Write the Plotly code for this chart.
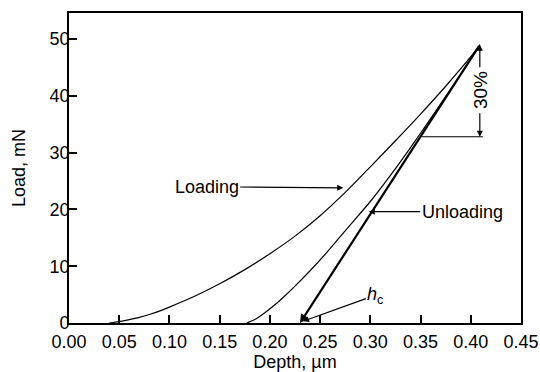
import plotly.graph_objects as go

# ---- data ----
loading_depth = [0.040, 0.050, 0.060, 0.070, 0.080, 0.090, 0.100, 0.125, 0.150, 0.175,
                 0.200, 0.225, 0.250, 0.275, 0.300, 0.325, 0.350, 0.375, 0.400, 0.409]
loading_load = [0.0, 0.25, 0.6, 1.0, 1.5, 2.1, 2.8, 4.7, 6.9, 9.4,
                 12.2, 15.3, 18.9, 23.0, 27.5, 32.1, 36.8, 41.7, 46.9, 49.0]

unloading_depth = [0.177, 0.185, 0.195, 0.205, 0.215, 0.225, 0.240, 0.255, 0.270,
                   0.285, 0.300, 0.320, 0.340, 0.360, 0.380, 0.395, 0.409]
unloading_load = [0.0, 0.6, 1.8, 3.2, 4.8, 6.5, 9.2, 12.1, 15.2,
                  18.3, 21.4, 26.0, 30.9, 36.0, 41.2, 45.1, 49.0]

tangent_depth = [0.230, 0.409]     # h_c intercept, peak depth
tangent_load = [0.0, 49.0]

fit_level = 32.8                    # lower limit of the top 30 % of unloading
fit_line_depth = [0.351, 0.412]

x_ticks = [0.00, 0.05, 0.10, 0.15, 0.20, 0.25, 0.30, 0.35, 0.40, 0.45]
y_ticks = [0, 10, 20, 30, 40, 50]

FONT = "Liberation Sans, Arial, sans-serif"

fig = go.Figure()
fig.add_trace(go.Scatter(x=loading_depth, y=loading_load, mode="lines",
                         line=dict(color="black", width=1.2, shape="spline", smoothing=0.8),
                         showlegend=False, hoverinfo="skip"))
fig.add_trace(go.Scatter(x=unloading_depth, y=unloading_load, mode="lines",
                         line=dict(color="black", width=1.2, shape="spline", smoothing=0.8),
                         showlegend=False, hoverinfo="skip"))
fig.add_trace(go.Scatter(x=fit_line_depth, y=[fit_level, fit_level], mode="lines",
                         line=dict(color="black", width=1.2),
                         showlegend=False, hoverinfo="skip"))

peak_x = tangent_depth[1]
peak_y = tangent_load[1]

ann = []
# tangent line with arrowhead at h_c
ann.append(dict(x=tangent_depth[0], y=tangent_load[0], ax=peak_x, ay=peak_y,
                xref="x", yref="y", axref="x", ayref="y", text="",
                showarrow=True, arrowhead=2, arrowsize=0.8, arrowwidth=2.2,
                arrowcolor="black", standoff=0))
# Loading label
ann.append(dict(x=0.273, y=23.8, ax=0.137, ay=24.0, xref="x", yref="y",
                axref="x", ayref="y", text="Loading", showarrow=True,
                arrowhead=2, arrowsize=1, arrowwidth=1.2, arrowcolor="black",
                font=dict(family=FONT, size=18, color="black")))
# Unloading label
ann.append(dict(x=0.2985, y=19.6, ax=0.3915, ay=19.6, xref="x", yref="y",
                axref="x", ayref="y", text="Unloading", showarrow=True,
                arrowhead=2, arrowsize=1, arrowwidth=1.2, arrowcolor="black",
                font=dict(family=FONT, size=18, color="black")))
# h_c label
ann.append(dict(x=0.233, y=0.3, ax=0.305, ay=4.9, xref="x", yref="y",
                axref="x", ayref="y", text="<i>h</i><sub>c</sub>", showarrow=True,
                arrowhead=2, arrowsize=1, arrowwidth=1.2, arrowcolor="black",
                font=dict(family=FONT, size=18, color="black")))
# 30 % double arrow
ann.append(dict(x=peak_x, y=peak_y, ax=peak_x, ay=44.8, xref="x", yref="y",
                axref="x", ayref="y", text="", showarrow=True,
                arrowhead=2, arrowsize=1, arrowwidth=1.2, arrowcolor="black", standoff=0))
ann.append(dict(x=peak_x, y=fit_level, ax=peak_x, ay=37.2, xref="x", yref="y",
                axref="x", ayref="y", text="", showarrow=True,
                arrowhead=2, arrowsize=1, arrowwidth=1.2, arrowcolor="black", standoff=0))
ann.append(dict(x=peak_x, y=41.0, xref="x", yref="y", text="30%", showarrow=False,
                textangle=-90, font=dict(family=FONT, size=19, color="black")))

fig.update_layout(
    width=540, height=372,
    margin=dict(l=69, r=19, t=13, b=49, autoexpand=False),
    paper_bgcolor="white", plot_bgcolor="white",
    annotations=ann,
    font=dict(family=FONT, size=18, color="black"),
)
axis_common = dict(showline=True, linecolor="black", linewidth=1.8, mirror=True,
                   ticks="inside", ticklen=8, tickwidth=1.5, tickcolor="black",
                   showgrid=False, zeroline=False, automargin=False,
                   tickfont=dict(family=FONT, size=18, color="black"))
fig.update_xaxes(range=[0, 0.45], tickvals=x_ticks,
                 ticktext=[f"{v:.2f}" for v in x_ticks], ticklabelstandoff=1,
                 title=dict(text="Depth, µm", standoff=9,
                            font=dict(family=FONT, size=18, color="black")),
                 **axis_common)
fig.update_yaxes(range=[0, 54.6], tickvals=y_ticks, ticklabelstandoff=-6,
                 title=dict(text="Load, mN", standoff=19,
                            font=dict(family=FONT, size=18, color="black")),
                 **axis_common)

fig.write_html("out.html")
